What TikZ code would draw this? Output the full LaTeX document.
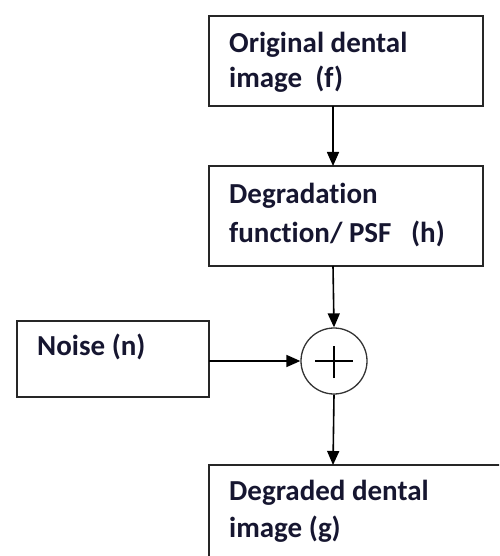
\documentclass[tikz,border=0pt]{standalone}
\usepackage{fontspec}
\setmainfont{Carlito}[Ligatures=NoCommon]
\usetikzlibrary{arrows.meta}
\definecolor{txt}{RGB}{22,22,48}
\begin{document}
\begin{tikzpicture}[x=1pt,y=-1pt,
  box/.style={draw=black!85,line width=1.6pt},
  lbl/.style={anchor=base west,inner sep=0pt,text=txt,font=\bfseries\fontsize{29}{34}\selectfont},
  conn/.style={line width=1.6pt,-{Triangle[width=12pt,length=14pt]}}]
\useasboundingbox (0,0) rectangle (499,556);
\begin{scope}
\clip (0,0) rectangle (499,556);
% boxes
\draw[box] (209,16) rectangle (483,106);
\coordinate (b1s) at (333,106);
\coordinate (b2n) at (333,166);
\draw[box] (209,166) rectangle (483,266);
\coordinate (b2s) at (333,266);
\draw[box] (17,321) rectangle (209,397);
\coordinate (nE) at (209,361);
\draw[box] (209,465) rectangle (520,600);
\coordinate (b3n) at (333,465);
% summing junction
\node[draw=black!80,line width=1.3pt,circle,minimum size=66pt,inner sep=0pt] (sum) at (334,361) {};
\draw[line width=1.3pt] ([xshift=-19pt]sum.center) -- ([xshift=19pt]sum.center);
\draw[line width=1.3pt] ([yshift=-17pt]sum.center) -- ([yshift=15pt]sum.center);
% connectors
\draw[conn] (b1s) -- (b2n);
\draw[conn] (b2s) -- (sum.north);
\draw[conn] (nE) -- (sum.west);
\draw[conn] (sum.south) -- (b3n);
% labels
\node[lbl] (t1a) at (229,53) {Original dental};
\node[lbl] (t1b) at (229,88) {image\ \ (f)};
\node[lbl] (t2a) at (229,203) {Degradation};
\node[lbl] (t2b) at (229,242) {function/ PSF\ \ \ (h)};
\node[lbl] (tn) at (37,355) {Noise (n)};
\node[lbl] (t3a) at (229,500) {Degraded dental};
\node[lbl] (t3b) at (229,537) {image (g)};
\end{scope}
\end{tikzpicture}
\end{document}
